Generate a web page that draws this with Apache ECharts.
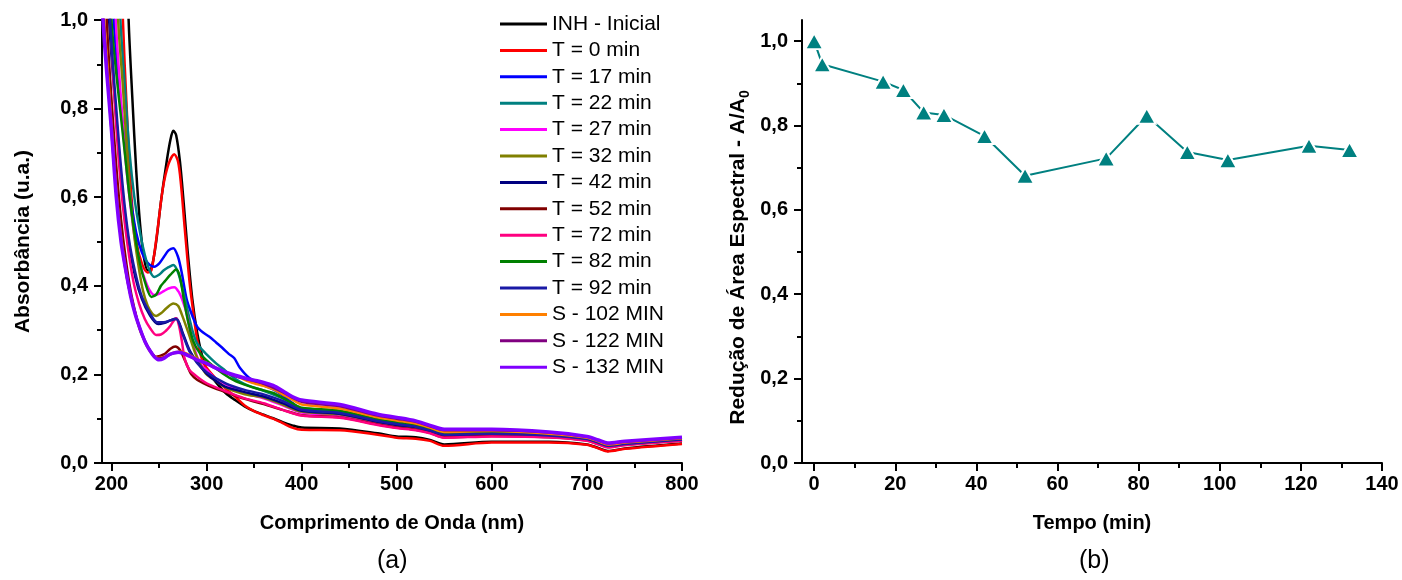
<!DOCTYPE html>
<html>
<head>
<meta charset="utf-8">
<script src="https://cdn.jsdelivr.net/npm/echarts@6/dist/echarts.min.js"></script>
<style>
  html, body { margin: 0; padding: 0; background: #ffffff; }
  #chart { width: 1402px; height: 580px; }
</style>
</head>
<body>
<div id="chart"></div>
<script>
// ---- (a) UV-Vis spectra: [wavelength nm, absorbance] ----
const inhInicial = [[215,1.25],[218,1.0],[222,0.82],[226,0.66],[230,0.54],[234,0.465],[238,0.435],[242,0.44],[247,0.50],[252,0.59],[258,0.68],[262,0.73],[265,0.75],[268,0.74],[272,0.68],[276,0.585],[280,0.48],[285,0.37],[290,0.295],[295,0.245],[300,0.212],[310,0.182],[320,0.158],[330,0.142],[340,0.128],[350,0.117],[360,0.109],[370,0.101],[380,0.092],[390,0.085],[400,0.080],[440,0.078],[480,0.067],[500,0.060],[520,0.058],[535,0.052],[550,0.042],[600,0.048],[660,0.048],[700,0.042],[712,0.034],[722,0.027],[740,0.033],[800,0.044]];
const t0 = [[209,1.25],[212,1.0],[216,0.8],[221,0.6],[226,0.5],[232,0.45],[238,0.43],[242,0.435],[248,0.52],[254,0.62],[260,0.675],[266,0.697],[270,0.68],[273,0.63],[277,0.53],[282,0.41],[286,0.34],[290,0.28],[295,0.235],[300,0.215],[310,0.19],[320,0.168],[330,0.15],[340,0.13],[350,0.117],[360,0.108],[370,0.1],[380,0.09],[390,0.08],[400,0.075],[440,0.074],[480,0.064],[500,0.057],[520,0.055],[535,0.05],[550,0.039],[600,0.046],[660,0.046],[700,0.041],[712,0.033],[722,0.026],[740,0.032],[800,0.043]];
const t17 = [[199,1.25],[202.4,1.0],[208,0.85],[214,0.72],[220,0.6],[226,0.52],[232,0.475],[238,0.452],[245,0.443],[250,0.45],[255,0.465],[260,0.48],[265,0.485],[270,0.465],[274,0.428],[279,0.37],[284,0.338],[290,0.308],[296,0.295],[303,0.285],[310,0.272],[317,0.259],[323,0.247],[329,0.237],[335,0.215],[345,0.192],[360,0.176],[375,0.16],[390,0.136],[400,0.122],[440,0.115],[480,0.096],[500,0.089],[520,0.083],[535,0.075],[550,0.065],[600,0.067],[660,0.063],[700,0.054],[712,0.046],[722,0.039],[740,0.044],[800,0.054]];
const t22 = [[206,1.25],[209.4,1.0],[214,0.85],[219,0.7],[224,0.6],[230,0.52],[235,0.47],[240,0.435],[245,0.42],[250,0.425],[255,0.435],[260,0.442],[265,0.447],[270,0.43],[275,0.39],[280,0.345],[285,0.30],[290,0.27],[300,0.245],[310,0.225],[320,0.208],[330,0.19],[340,0.178],[350,0.17],[360,0.163],[380,0.146],[400,0.123],[440,0.116],[480,0.097],[500,0.090],[520,0.084],[535,0.075],[550,0.066],[600,0.068],[660,0.063],[700,0.055],[712,0.047],[722,0.040],[740,0.044],[800,0.054]];
const t27 = [[201,1.25],[204.5,1.0],[210,0.82],[215,0.68],[220,0.58],[225,0.50],[230,0.45],[235,0.415],[240,0.39],[245,0.379],[250,0.382],[255,0.388],[260,0.394],[266,0.397],[271,0.385],[275,0.365],[279,0.338],[284,0.285],[290,0.24],[295,0.22],[300,0.21],[310,0.19],[320,0.178],[340,0.158],[360,0.146],[380,0.13],[400,0.114],[440,0.108],[480,0.091],[500,0.084],[520,0.078],[535,0.070],[550,0.060],[600,0.063],[660,0.060],[700,0.052],[712,0.044],[722,0.037],[740,0.042],[800,0.052]];
const t32 = [[204,1.25],[207,1.0],[212,0.85],[218,0.65],[223,0.53],[228,0.45],[233,0.39],[238,0.355],[243,0.337],[247,0.332],[252,0.338],[258,0.35],[265,0.36],[270,0.355],[274,0.335],[281,0.293],[288,0.248],[294,0.22],[300,0.20],[310,0.185],[320,0.17],[340,0.155],[360,0.148],[380,0.132],[400,0.116],[440,0.110],[480,0.093],[500,0.086],[520,0.080],[535,0.072],[550,0.062],[600,0.065],[660,0.061],[700,0.053],[712,0.045],[722,0.038],[740,0.042],[800,0.052]];
const t42 = [[194,1.25],[197.5,1.0],[205,0.78],[212,0.6],[218,0.5],[225,0.42],[232,0.37],[240,0.335],[249,0.314],[255,0.316],[262,0.322],[268,0.327],[275,0.293],[282,0.255],[290,0.228],[300,0.202],[310,0.185],[320,0.172],[340,0.16],[360,0.15],[380,0.135],[400,0.118],[440,0.111],[480,0.093],[500,0.086],[520,0.081],[535,0.072],[550,0.063],[600,0.065],[660,0.061],[700,0.053],[712,0.045],[722,0.038],[740,0.043],[800,0.053]];
const t52 = [[192,1.25],[195,1.0],[200,0.82],[205,0.67],[210,0.55],[215,0.46],[220,0.39],[225,0.34],[230,0.30],[235,0.275],[240,0.255],[247,0.24],[255,0.245],[262,0.258],[267,0.263],[272,0.255],[278,0.228],[284,0.2],[290,0.188],[297,0.18],[305,0.172],[320,0.16],[340,0.145],[360,0.133],[380,0.12],[400,0.108],[440,0.103],[480,0.087],[500,0.080],[520,0.075],[535,0.068],[550,0.058],[600,0.061],[660,0.058],[700,0.051],[712,0.043],[722,0.036],[740,0.041],[800,0.051]];
const t72 = [[196,1.25],[199,1.0],[205,0.76],[211,0.6],[217,0.49],[223,0.41],[229,0.36],[235,0.325],[241,0.303],[247,0.289],[252,0.29],[257,0.298],[262,0.31],[266,0.323],[268,0.327],[271,0.31],[274,0.275],[277,0.235],[282,0.21],[290,0.195],[300,0.18],[320,0.162],[340,0.146],[360,0.135],[380,0.12],[400,0.107],[440,0.102],[480,0.086],[500,0.079],[520,0.074],[535,0.067],[550,0.057],[600,0.060],[660,0.058],[700,0.050],[712,0.042],[722,0.035],[740,0.040],[800,0.050]];
const t82 = [[197,1.25],[200,1.0],[205,0.88],[210,0.78],[215,0.68],[219,0.60],[225,0.51],[230,0.45],[235,0.41],[242,0.375],[247,0.38],[252,0.40],[256,0.41],[262,0.425],[268,0.437],[272,0.42],[276,0.37],[280,0.325],[286,0.275],[293,0.248],[303,0.226],[317,0.202],[331,0.184],[340,0.177],[350,0.17],[360,0.164],[370,0.158],[380,0.147],[390,0.135],[400,0.125],[440,0.118],[480,0.099],[500,0.092],[520,0.085],[535,0.076],[550,0.067],[600,0.069],[660,0.064],[700,0.055],[712,0.047],[722,0.040],[740,0.045],[800,0.054]];
const t92 = [[195,1.25],[198.5,1.0],[205,0.8],[212,0.62],[218,0.51],[225,0.43],[232,0.375],[240,0.34],[248,0.318],[255,0.318],[262,0.322],[268,0.325],[275,0.29],[282,0.252],[290,0.226],[300,0.205],[320,0.18],[340,0.165],[360,0.155],[380,0.14],[400,0.120],[440,0.113],[480,0.095],[500,0.088],[520,0.082],[535,0.073],[550,0.064],[600,0.066],[660,0.062],[700,0.054],[712,0.046],[722,0.039],[740,0.043],[800,0.053]];
const s102 = [[189,1.25],[192.5,1.0],[197,0.86],[202,0.70],[207,0.57],[212,0.48],[217,0.41],[222,0.36],[227,0.32],[232,0.29],[237,0.265],[242,0.248],[249,0.237],[256,0.24],[262,0.246],[267,0.25],[272,0.251],[278,0.248],[285,0.24],[292,0.233],[300,0.226],[310,0.215],[320,0.205],[330,0.197],[340,0.188],[350,0.18],[360,0.174],[370,0.167],[380,0.155],[390,0.143],[400,0.132],[440,0.123],[480,0.103],[500,0.096],[520,0.089],[535,0.080],[550,0.070],[600,0.072],[660,0.066],[700,0.057],[712,0.049],[722,0.042],[740,0.046],[800,0.056]];
const s122 = [[189,1.2],[192,1.0],[196,0.87],[201,0.72],[206,0.59],[211,0.49],[216,0.42],[221,0.37],[226,0.33],[231,0.298],[236,0.272],[241,0.253],[248,0.236],[255,0.238],[261,0.244],[266,0.248],[271,0.249],[278,0.246],[290,0.232],[300,0.224],[320,0.203],[340,0.19],[360,0.179],[380,0.16],[400,0.138],[440,0.128],[480,0.107],[500,0.100],[520,0.093],[535,0.083],[550,0.074],[600,0.074],[660,0.069],[700,0.059],[712,0.051],[722,0.044],[740,0.048],[800,0.057]];
const s132 = [[189,1.1],[191,1.0],[195,0.88],[200,0.75],[205,0.60],[210,0.50],[215,0.435],[220,0.378],[225,0.335],[230,0.303],[235,0.275],[240,0.255],[245,0.24],[250,0.233],[255,0.236],[260,0.244],[265,0.248],[270,0.25],[275,0.248],[280,0.243],[290,0.233],[300,0.225],[310,0.214],[320,0.205],[330,0.198],[340,0.192],[350,0.187],[360,0.182],[370,0.175],[380,0.163],[390,0.150],[400,0.142],[440,0.132],[480,0.110],[500,0.103],[520,0.095],[535,0.085],[550,0.076],[600,0.076],[660,0.070],[700,0.060],[712,0.052],[722,0.045],[740,0.049],[800,0.058]];

const spectraNames = ['INH - Inicial','T = 0 min','T = 17 min','T = 22 min','T = 27 min','T = 32 min','T = 42 min','T = 52 min','T = 72 min','T = 82 min','T = 92 min','S - 102 MIN','S - 122 MIN','S - 132 MIN'];
const spectraColors = ['#000000','#ff0000','#0000ff','#008080','#ff00ff','#808000','#000080','#800000','#ff0080','#008000','#1a1aa6','#ff8000','#800080','#8000ff'];
const spectraData = [inhInicial, t0, t17, t22, t27, t32, t42, t52, t72, t82, t92, s102, s122, s132];

// ---- (b) spectral area ratio vs time ----
const tempoMin = [0, 2, 17, 22, 27, 32, 42, 52, 72, 82, 92, 102, 122, 132];
const areaRatio = [1.0, 0.945, 0.904, 0.884, 0.831, 0.825, 0.775, 0.681, 0.722, 0.823, 0.737, 0.718, 0.752, 0.742];

// ---- tick positions ----
const nmTicks = [200, 300, 400, 500, 600, 700, 800];
const nmMinorTicks = [250, 350, 450, 550, 650, 750];
const tempoTicks = [0, 20, 40, 60, 80, 100, 120, 140];
const tempoMinorTicks = [10, 30, 50, 70, 90, 110, 130];
const yTicks = [0, 0.2, 0.4, 0.6, 0.8, 1.0];
const yMinorTicks = [0.1, 0.3, 0.5, 0.7, 0.9];

const FONT = "'Liberation Sans', Arial, Helvetica, sans-serif";
const commaFmt = v => v.toFixed(1).replace('.', ',');

function mainAxis(grid, min, max, ticks, extra) {
  return Object.assign({
    gridIndex: grid, type: 'value', min: min, max: max,
    axisLine: { show: true, onZero: false, lineStyle: { color: '#000', width: 2 } },
    axisTick: { show: true, customValues: ticks, length: 8, lineStyle: { color: '#000', width: 2 } },
    splitLine: { show: false }
  }, extra);
}
function minorAxis(grid, min, max, ticks, pos) {
  return {
    gridIndex: grid, type: 'value', min: min, max: max, position: pos,
    axisLine: { show: false, onZero: false },
    axisTick: { show: true, customValues: ticks, length: 5, lineStyle: { color: '#000', width: 2 } },
    axisLabel: { show: false },
    splitLine: { show: false }
  };
}
function tickLabels(ticks, margin, fmt) {
  const o = { customValues: ticks, color: '#000', fontFamily: FONT, fontSize: 20, fontWeight: 'bold', margin: margin };
  if (fmt) o.formatter = fmt;
  return o;
}

const nameStyle = { color: '#000', fontFamily: FONT, fontSize: 20, fontWeight: 'bold', lineHeight: 20 };

const spectraSeries = spectraData.map((d, i) => ({
  name: spectraNames[i],
  type: 'line',
  xAxisIndex: 0, yAxisIndex: 0,
  data: d,
  symbol: 'none',
  smooth: 0.3,
  lineStyle: { color: spectraColors[i], width: i === 13 ? 3.5 : 2.5 },
  itemStyle: { color: spectraColors[i] },
  silent: true
}));

const chart = echarts.init(document.getElementById('chart'), null, { renderer: 'canvas' });
chart.setOption({
  animation: false,
  backgroundColor: '#ffffff',
  grid: [
    { left: 102, top: 20, width: 580, height: 443, outerBoundsMode: 'none' },
    { left: 802, top: 20, width: 580, height: 443, outerBoundsMode: 'none' }
  ],
  legend: {
    data: spectraNames,
    orient: 'vertical',
    left: 495, top: 8,
    icon: 'rect',
    itemWidth: 47, itemHeight: 3, itemGap: 4.4,
    textStyle: { color: '#000', fontFamily: FONT, fontSize: 21, lineHeight: 22 },
    selectedMode: false
  },
  xAxis: [
    mainAxis(0, 190, 800, nmTicks, {
      position: 'bottom',
      axisLabel: tickLabels(nmTicks, 11),
      name: 'Comprimento de Onda (nm)', nameLocation: 'middle', nameGap: 50, nameTextStyle: nameStyle
    }),
    minorAxis(0, 190, 800, nmMinorTicks, 'bottom'),
    mainAxis(1, -3, 140, tempoTicks, {
      position: 'bottom',
      axisLabel: tickLabels(tempoTicks, 11),
      name: 'Tempo (min)', nameLocation: 'middle', nameGap: 50, nameTextStyle: nameStyle
    }),
    minorAxis(1, -3, 140, tempoMinorTicks, 'bottom')
  ],
  yAxis: [
    mainAxis(0, 0, 1.0, yTicks, {
      position: 'left',
      axisLabel: tickLabels(yTicks, 14, commaFmt),
      name: 'Absorbância (u.a.)', nameLocation: 'middle', nameGap: 68,
      nameTextStyle: { color: '#000', fontFamily: FONT, fontSize: 21, fontWeight: 'bold', lineHeight: 22 }
    }),
    minorAxis(0, 0, 1.0, yMinorTicks, 'left'),
    mainAxis(1, 0, 1.05, yTicks, {
      position: 'left',
      axisLabel: tickLabels(yTicks, 14, commaFmt),
      name: 'Redução de Área Espectral - A/A{sub|0}', nameLocation: 'middle', nameGap: 50,
      nameTextStyle: {
        color: '#000', fontFamily: FONT, fontSize: 21, fontWeight: 'bold', lineHeight: 28,
        padding: [0, 32, 0, 0],
        rich: { sub: { color: '#000', fontFamily: FONT, fontSize: 14, fontWeight: 'bold', verticalAlign: 'bottom', lineHeight: 28 } }
      }
    }),
    minorAxis(1, 0, 1.05, yMinorTicks, 'left')
  ],
  series: spectraSeries.concat([{
    name: 'A/A0',
    type: 'line',
    xAxisIndex: 2, yAxisIndex: 2,
    data: tempoMin.map((t, i) => [t, areaRatio[i]]),
    symbol: 'triangle',
    symbolSize: [18, 16],
    lineStyle: { color: '#008080', width: 2 },
    itemStyle: { color: '#008080', borderColor: '#ffffff', borderWidth: 2 },
    silent: true
  }]),
  graphic: [
    { type: 'text', left: 392 - 15, top: 549, style: { text: '(a)', fill: '#000', font: "25px 'Liberation Sans', Arial, sans-serif" } },
    { type: 'text', left: 1094 - 15, top: 549, style: { text: '(b)', fill: '#000', font: "25px 'Liberation Sans', Arial, sans-serif" } }
  ]
});
</script>
</body>
</html>
